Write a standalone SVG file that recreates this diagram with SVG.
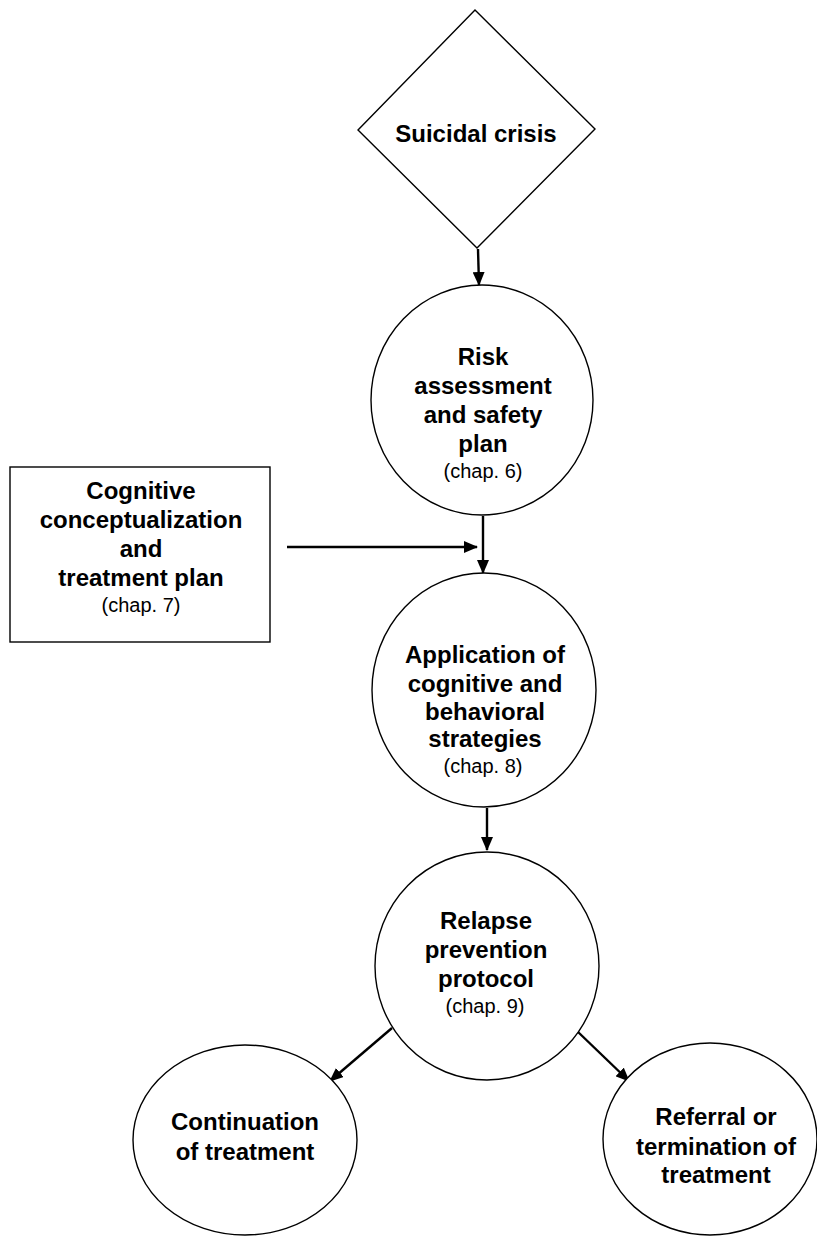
<svg xmlns="http://www.w3.org/2000/svg" width="817" height="1236" viewBox="0 0 817 1236">
  <style>
    .shape { fill: #ffffff; stroke: #000000; stroke-width: 1.4; }
    .title { font-family: "Liberation Sans", Arial, sans-serif; font-weight: bold; font-size: 24px; fill: #000000; text-anchor: middle; }
    .ref { font-family: "Liberation Sans", Arial, sans-serif; font-size: 20px; fill: #000000; text-anchor: middle; }
    .arrow { fill: none; stroke: #000000; stroke-width: 2.4; marker-end: url(#head); }
  </style>
  <defs>
    <marker id="head" markerUnits="userSpaceOnUse" markerWidth="14" markerHeight="12" refX="13" refY="6" orient="auto">
      <path d="M0,0 L14,6 L0,12 z" fill="#000000"/>
    </marker>
  </defs>
  <rect width="817" height="1236" fill="#ffffff"/>

  <!-- connectors -->
  <g id="connectors">
    <line class="arrow" x1="478" y1="249" x2="479" y2="285"/>
    <line class="arrow" x1="287" y1="547" x2="477" y2="547"/>
    <line class="arrow" x1="483" y1="516" x2="483" y2="573"/>
    <line class="arrow" x1="487" y1="808" x2="487" y2="850"/>
    <line class="arrow" x1="392" y1="1028" x2="330" y2="1081"/>
    <line class="arrow" x1="577" y1="1031" x2="629" y2="1081"/>
  </g>

  <!-- decision: entry point -->
  <g id="crisis">
    <polygon class="shape" points="475,10 595,129 477,248 358,130"/>
    <text class="title" x="476" y="142">Suicidal crisis</text>
  </g>

  <g id="risk">
    <ellipse class="shape" cx="482" cy="400" rx="111" ry="115"/>
    <text class="title" x="483" y="365">Risk</text>
    <text class="title" x="483" y="394">assessment</text>
    <text class="title" x="483" y="423">and safety</text>
    <text class="title" x="483" y="452">plan</text>
    <text class="ref" x="483" y="478">(chap. 6)</text>
  </g>

  <g id="conceptualization">
    <rect class="shape" x="10" y="467" width="260" height="175"/>
    <text class="title" x="141" y="499">Cognitive</text>
    <text class="title" x="141" y="528">conceptualization</text>
    <text class="title" x="141" y="557">and</text>
    <text class="title" x="141" y="586">treatment plan</text>
    <text class="ref" x="141" y="612">(chap. 7)</text>
  </g>

  <g id="strategies">
    <ellipse class="shape" cx="484" cy="690" rx="112" ry="117"/>
    <text class="title" x="485" y="663">Application of</text>
    <text class="title" x="485" y="692">cognitive and</text>
    <text class="title" x="485" y="720">behavioral</text>
    <text class="title" x="485" y="747">strategies</text>
    <text class="ref" x="483" y="773">(chap. 8)</text>
  </g>

  <g id="relapse">
    <ellipse class="shape" cx="487" cy="966" rx="112" ry="114"/>
    <text class="title" x="486" y="929">Relapse</text>
    <text class="title" x="486" y="958">prevention</text>
    <text class="title" x="486" y="987">protocol</text>
    <text class="ref" x="485" y="1013">(chap. 9)</text>
  </g>

  <g id="continuation">
    <ellipse class="shape" cx="245" cy="1140" rx="112" ry="95"/>
    <text class="title" x="245" y="1130">Continuation</text>
    <text class="title" x="245" y="1160">of treatment</text>
  </g>

  <g id="referral">
    <ellipse class="shape" cx="710" cy="1139" rx="107" ry="96"/>
    <text class="title" x="716" y="1125">Referral or</text>
    <text class="title" x="716" y="1155">termination of</text>
    <text class="title" x="716" y="1183">treatment</text>
  </g>
</svg>
